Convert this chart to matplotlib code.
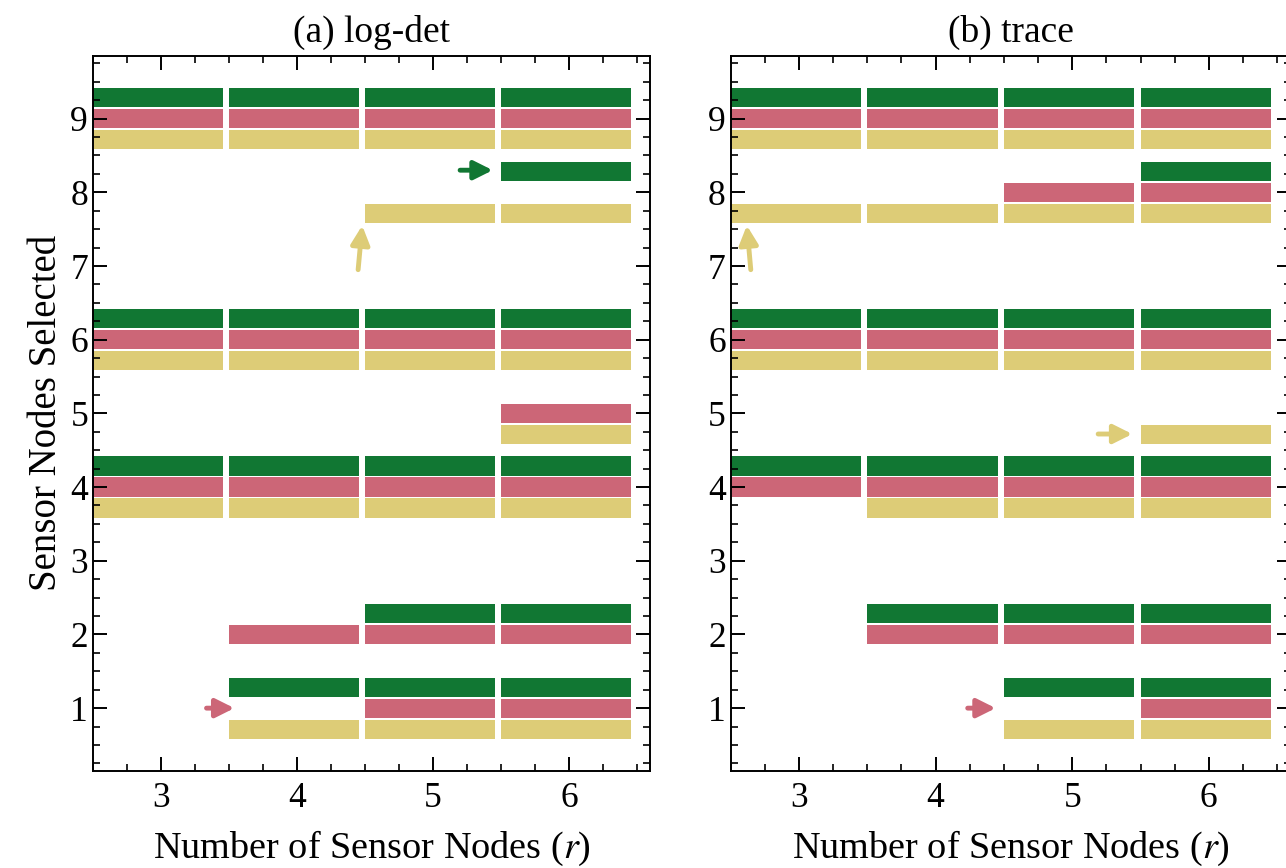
import numpy as np
import matplotlib
matplotlib.use("Agg")
import matplotlib.pyplot as plt
from matplotlib.ticker import MultipleLocator

plt.rcParams['font.family'] = 'serif'
plt.rcParams['font.serif'] = ['Liberation Serif', 'DejaVu Serif']
plt.rcParams['mathtext.fontset'] = 'stix'
plt.rcParams['font.size'] = 25.5
plt.rcParams['xtick.direction'] = 'in'
plt.rcParams['ytick.direction'] = 'in'
plt.rcParams['xtick.top'] = True
plt.rcParams['ytick.right'] = True
plt.rcParams['axes.linewidth'] = 1.4

# number of sensor nodes r
r_values = [3, 4, 5, 6]

# selected nodes for each r, three methods (green, pink, yellow)
logdet_green = [[4, 6, 9], [1, 4, 6, 9], [1, 2, 4, 6, 9], [1, 2, 4, 6, 8, 9]]
logdet_pink = [[4, 6, 9], [2, 4, 6, 9], [1, 2, 4, 6, 9], [1, 2, 4, 5, 6, 9]]
logdet_yellow = [[4, 6, 9], [1, 4, 6, 9], [1, 4, 6, 8, 9], [1, 4, 5, 6, 8, 9]]

trace_green = [[4, 6, 9], [2, 4, 6, 9], [1, 2, 4, 6, 9], [1, 2, 4, 6, 8, 9]]
trace_pink = [[4, 6, 9], [2, 4, 6, 9], [2, 4, 6, 8, 9], [1, 2, 4, 6, 8, 9]]
trace_yellow = [[6, 8, 9], [4, 6, 8, 9], [1, 4, 6, 8, 9], [1, 4, 5, 6, 8, 9]]

# arrows: (tail, tip, colour)
logdet_arrows = [((3.335, 1.0), (3.54, 1.0), 'pink'),
                 ((5.20, 8.3), (5.44, 8.3), 'green'),
                 ((4.45, 6.95), (4.48, 7.55), 'yellow')]
trace_arrows = [((2.647, 6.95), (2.618, 7.55), 'yellow'),
                ((5.19, 4.72), (5.44, 4.72), 'yellow'),
                ((4.235, 1.0), (4.44, 1.0), 'pink')]

colors = {'green': '#117733', 'pink': '#CC6677', 'yellow': '#DDCC77'}
offsets = {'green': 0.285, 'pink': 0.0, 'yellow': -0.285}
bar_h = 0.26
bar_w = 0.955


def draw_panel(ax, sels, arrows, title):
    for name, sel in sels:
        for r, nodes in zip(r_values, sel):
            y = np.array(nodes) + offsets[name]
            ax.barh(y, bar_w, height=bar_h, left=r - 0.5,
                    color=colors[name], linewidth=0)
    for tail, tip, name in arrows:
        ax.annotate('', xy=tip, xytext=tail,
                    arrowprops=dict(arrowstyle='-|>', color=colors[name],
                                    lw=3.5, mutation_scale=28,
                                    shrinkA=0, shrinkB=0))
    ax.set_xlim(2.5, 6.6)
    ax.set_ylim(0.15, 9.85)
    ax.set_xticks(r_values)
    ax.set_yticks(range(1, 10))
    ax.xaxis.set_minor_locator(MultipleLocator(0.25))
    ax.yaxis.set_minor_locator(MultipleLocator(0.25))
    ax.tick_params(which='major', length=10, width=1.4)
    ax.tick_params(which='minor', length=5, width=1.2)
    ax.tick_params(axis='x', pad=8)
    ax.set_title(title, pad=10, fontsize=27)
    ax.set_xlabel(r'Number of Sensor Nodes ($r$)', labelpad=10, fontsize=27.5)


fig = plt.figure(figsize=(12.86, 8.68), dpi=100)
ax1 = fig.add_axes([0.0723, 0.112, 0.4335, 0.8235])
ax2 = fig.add_axes([0.5682, 0.112, 0.4355, 0.8235])

draw_panel(ax1, [('green', logdet_green), ('pink', logdet_pink),
                 ('yellow', logdet_yellow)], logdet_arrows, '(a) log-det')
draw_panel(ax2, [('green', trace_green), ('pink', trace_pink),
                 ('yellow', trace_yellow)], trace_arrows, '(b) trace')
ax1.set_ylabel('Sensor Nodes Selected', labelpad=4, fontsize=28)

fig.savefig('out.png', dpi=100)
